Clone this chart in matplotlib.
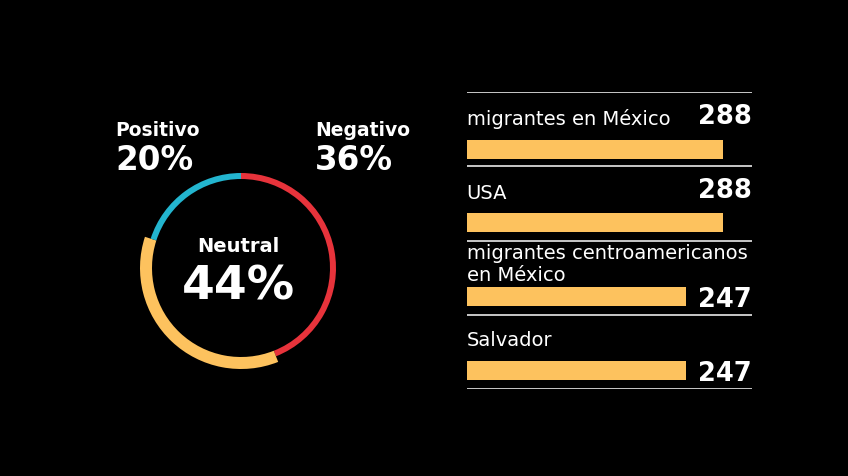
import matplotlib
matplotlib.use("Agg")
import matplotlib.pyplot as plt

# ---- data ----
sentiment_labels = ["Positivo", "Negativo", "Neutral"]
sentiment_pcts = [20, 36, 44]
# ring arcs as drawn (clockwise from top): red, yellow, blue
ring_names = ["Negativo", "Neutral", "Positivo"]
ring_shares = [44, 36, 20]

categories = ["migrantes en México", "USA",
              "migrantes centroamericanos\nen México", "Salvador"]
counts = [288, 288, 247, 247]

# ---- style ----
W, H = 848, 477
BG = "black"
RED = "#E7333B"
YEL = "#FDC25E"
BLUE = "#23B5CF"
FONT = ["DejaVu Sans"]
plt.rcParams["font.family"] = FONT

fig = plt.figure(figsize=(W / 100, H / 100), dpi=100, facecolor=BG)


def fx(x):
    return x / W


def fy(y):
    return 1 - y / H


# ---- donut ----
cx, cy, half = 241, 269, 112
axd = fig.add_axes([fx(cx - half), fy(cy + half), 2 * half / W, 2 * half / H])
axd.set_facecolor(BG)
axd.axis("off")
r_in = 89
thin = 6
thick = 12
color_map = {"Negativo": RED, "Neutral": YEL, "Positivo": BLUE}
wedges, _ = axd.pie(ring_shares, colors=[color_map[n] for n in ring_names],
                    startangle=90, counterclock=False, radius=r_in + thin,
                    wedgeprops=dict(width=thin, linewidth=0))
for w, n in zip(wedges, ring_names):
    if n == "Neutral":
        w.set_radius(r_in + thick)
        w.set_width(thick)
axd.set_xlim(-half, half)
axd.set_ylim(-half, half)
axd.set_aspect("equal")

pct = dict(zip(sentiment_labels, sentiment_pcts))
fig.text(fx(115), fy(131), "Positivo", color="white", fontsize=13.5,
         fontweight="bold", ha="left", va="center")
fig.text(fx(115), fy(160), f"{pct['Positivo']}%", color="white", fontsize=23.5,
         fontweight="bold", ha="left", va="center")
fig.text(fx(315), fy(131), "Negativo", color="white", fontsize=13.5,
         fontweight="bold", ha="left", va="center")
fig.text(fx(315), fy(160), f"{pct['Negativo']}%", color="white", fontsize=23.5,
         fontweight="bold", ha="left", va="center")
fig.text(fx(238), fy(247), "Neutral", color="white", fontsize=14,
         fontweight="bold", ha="center", va="center")
fig.text(fx(238), fy(287), f"{pct['Neutral']}%", color="white", fontsize=34,
         fontweight="bold", ha="center", va="center")

# ---- bars ----
left_px, right_px = 466.7, 751.7
top_px, bot_px = 93, 390
row0_px, step_px = 150, 73.7
axb = fig.add_axes([fx(left_px), fy(bot_px), (right_px - left_px) / W,
                    (bot_px - top_px) / H])
axb.set_facecolor(BG)
axb.axis("off")
px_per_unit = 256 / 288
axb.set_xlim(0, (right_px - left_px) / px_per_unit)
axb.set_ylim((bot_px - row0_px) / step_px, (top_px - row0_px) / step_px)

ypos = list(range(len(categories)))
axb.barh(ypos, counts, height=19 / step_px, color=YEL, linewidth=0)

line_c = "#C8C8C8"
for k in range(-1, len(categories)):
    yl = (top_px - row0_px) / step_px + (k + 1) * ((bot_px - top_px) / step_px) / len(categories)
    axb.axhline(yl, color=line_c, linewidth=1.4, xmin=0, xmax=1)

xmax = axb.get_xlim()[1]
vmax = max(counts)
for i, (cat, v) in enumerate(zip(categories, counts)):
    lines = cat.split("\n")
    n = len(lines)
    if n == 1:
        base = -25 / step_px
        axb.text(0, i + base, lines[0], color="white", fontsize=14,
                 ha="left", va="baseline")
    else:
        last = -16 / step_px
        for j, ln in enumerate(lines):
            axb.text(0, i + last - (n - 1 - j) * 22 / step_px, ln,
                     color="white", fontsize=14, ha="left", va="baseline")
    if v >= vmax:
        axb.text(xmax, i - 26 / step_px, f"{v}", color="white", fontsize=18.5,
                 fontweight="bold", ha="right", va="baseline")
    else:
        axb.text(xmax, i + 10 / step_px, f"{v}", color="white", fontsize=18.5,
                 fontweight="bold", ha="right", va="baseline")

fig.savefig("out.png", dpi=100, facecolor=BG)
